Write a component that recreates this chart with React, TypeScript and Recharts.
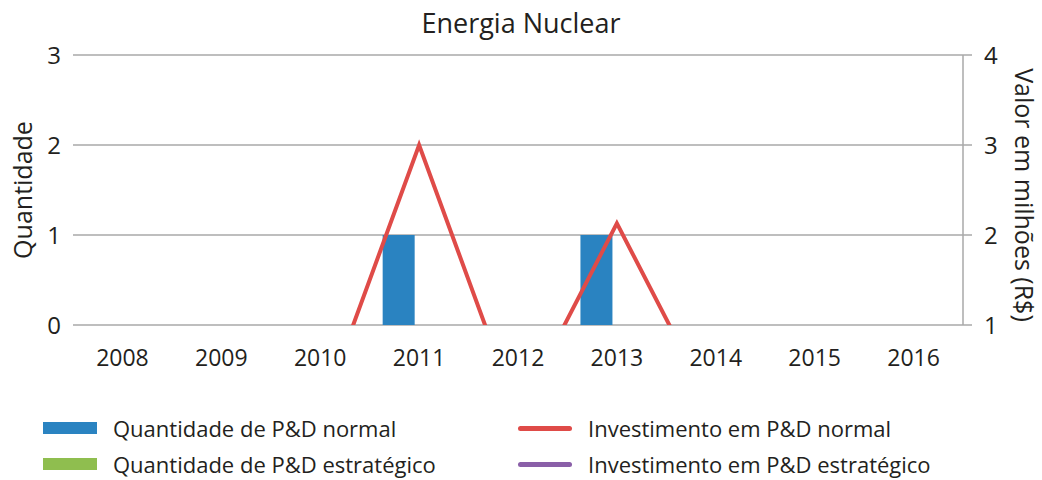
import React from 'react';
import { ComposedChart, Bar, Line, XAxis, YAxis, CartesianGrid } from 'recharts';

const years = ['2008', '2009', '2010', '2011', '2012', '2013', '2014', '2015', '2016'];
const qtdNormal = [0, 0, 0, 1, 0, 1, 0, 0, 0];
const qtdEstrategico = [0, 0, 0, 0, 0, 0, 0, 0, 0];
const invNormal = [0, 0, 0, 3, 0, 2.13, 0, 0, 0];
const invEstrategico = [0, 0, 0, 0, 0, 0, 0, 0, 0];
const leftTicks = [0, 1, 2, 3];
const rightTicks = [1, 2, 3, 4];

const BLUE = '#2a83c1';
const GREEN = '#8fbe4f';
const RED = '#df4b48';
const PURPLE = '#8a5fa8';
const GRID = '#a9a9a9';
const TEXT = '#231f20';
const FONT = '"Open Sans", "Noto Sans", sans-serif';

const data = years.map((y, i) => ({
  year: y,
  qn: qtdNormal[i],
  qe: qtdEstrategico[i],
  inv: invNormal[i],
  ie: invEstrategico[i],
}));

const legendItems = [
  { label: 'Quantidade de P&D normal', color: BLUE, type: 'bar', left: 43, top: 421 },
  { label: 'Investimento em P&D normal', color: RED, type: 'line', left: 518, top: 421 },
  { label: 'Quantidade de P&D estratégico', color: GREEN, type: 'bar', left: 43, top: 457 },
  { label: 'Investimento em P&D estratégico', color: PURPLE, type: 'line', left: 518, top: 457 },
];

const LeftLabel = (props: any) => {
  const vb = props.viewBox;
  const x = 22;
  const y = vb.y + vb.height / 2;
  return (
    <text x={x} y={y} transform={`rotate(-90, ${x}, ${y})`} textAnchor="middle" dominantBaseline="central"
      fill={TEXT} fontSize={25} fontFamily={FONT}>Quantidade</text>
  );
};

const RightLabel = (props: any) => {
  const vb = props.viewBox;
  const x = 1025;
  const y = vb.y + vb.height / 2 + 5;
  return (
    <text x={x} y={y} transform={`rotate(90, ${x}, ${y})`} textAnchor="middle" dominantBaseline="central"
      fill={TEXT} fontSize={25} fontFamily={FONT}>Valor em milhões (R$)</text>
  );
};

export default function App() {
  return (
    <div style={{ position: 'absolute', left: 0, top: 0, width: 1042, height: 480, background: '#fff', fontFamily: FONT }}>
      <div style={{ position: 'absolute', left: 0, top: 3, width: 1042, textAlign: 'center', fontSize: 27, color: TEXT, lineHeight: '40px' }}>
        Energia Nuclear
      </div>
      <ComposedChart width={1042} height={480} data={data} barCategoryGap={13} barGap={8}
        margin={{ top: 55, right: 0, left: 0, bottom: 100 }}>
        <CartesianGrid vertical={false} stroke={GRID} strokeWidth={1.5} yAxisId="left" />
        <XAxis dataKey="year" axisLine={false} tickLine={false} tickSize={8} tickMargin={17} height={55}
          tick={{ fill: TEXT, fontSize: 23, fontFamily: FONT }} interval={0} />
        <YAxis yAxisId="left" orientation="left" domain={[0, 3]} ticks={leftTicks} width={73}
          axisLine={false} tickLine={false} tickSize={6} tickMargin={6}
          tick={{ fill: TEXT, fontSize: 24, fontFamily: FONT }} label={<LeftLabel />} />
        <YAxis yAxisId="right" orientation="right" domain={[1, 4]} ticks={rightTicks} width={79}
          allowDataOverflow axisLine={{ stroke: GRID, strokeWidth: 1.5 }} tickLine={{ stroke: GRID, strokeWidth: 1.5 }}
          tickSize={9} tickMargin={12}
          tick={{ fill: TEXT, fontSize: 24, fontFamily: FONT }} label={<RightLabel />} />
        <Bar yAxisId="left" dataKey="qn" fill={BLUE} isAnimationActive={false} />
        <Bar yAxisId="left" dataKey="qe" fill={GREEN} isAnimationActive={false} />
        <Line yAxisId="right" dataKey="inv" stroke={RED} strokeWidth={4} dot={false} isAnimationActive={false} />
        <Line yAxisId="right" dataKey="ie" stroke={PURPLE} strokeWidth={4} dot={false} isAnimationActive={false} />
      </ComposedChart>
      {legendItems.map((it) => (
        <div key={it.label} style={{ position: 'absolute', left: it.left, top: it.top, height: 14, display: 'flex', alignItems: 'center' }}>
          {it.type === 'bar' ? (
            <div style={{ width: 54, height: 12, background: it.color }} />
          ) : (
            <div style={{ width: 54, height: 5, borderRadius: 3, background: it.color }} />
          )}
          <span style={{ marginLeft: 16, fontSize: 22, color: TEXT, whiteSpace: 'nowrap', lineHeight: '14px' }}>{it.label}</span>
        </div>
      ))}
    </div>
  );
}
